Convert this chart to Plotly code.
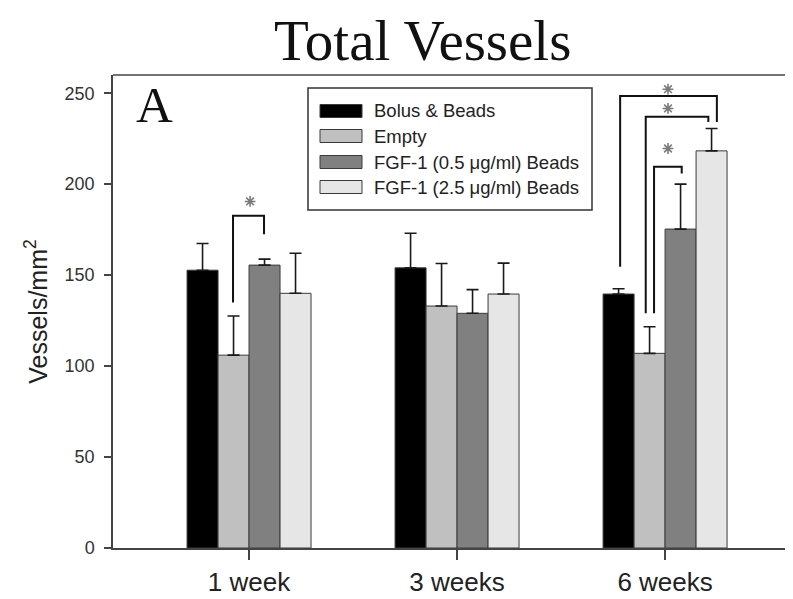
import plotly.graph_objects as go

# ---------------- data ----------------
categories = ["1 week", "3 weeks", "6 weeks"]
series_names = ["Bolus & Beads", "Empty", "FGF-1 (0.5 μg/ml) Beads", "FGF-1 (2.5 μg/ml) Beads"]
bolus_beads = [152.7, 154.0, 139.6]
empty = [106.0, 133.0, 107.0]
fgf_05 = [155.5, 129.0, 175.3]
fgf_25 = [140.0, 139.6, 218.3]
bolus_err = [14.7, 19.0, 2.9]
empty_err = [21.5, 23.4, 14.6]
fgf_05_err = [3.3, 13.0, 24.7]
fgf_25_err = [22.0, 17.0, 12.3]
y_ticks = [0, 50, 100, 150, 200, 250]

values = [bolus_beads, empty, fgf_05, fgf_25]
errors = [bolus_err, empty_err, fgf_05_err, fgf_25_err]
colors = ["#000000", "#c0c0c0", "#808080", "#e6e6e6"]

# significance brackets: (x_left, x_right, y_left_bottom, y_top, y_right_bottom, star_x, star_y)
brackets = [
    (-0.077, 0.072, 135.0, 182.6, 172.5, 0.005, 190.5),
    (1.784, 2.249, 154.6, 248.4, 234.2, 2.014, 252.2),
    (1.907, 2.208, 129.0, 237.0, 234.2, 2.014, 241.6),
    (1.947, 2.080, 129.0, 209.5, 205.9, 2.014, 219.6),
]

# page body has an 8px margin -> figure is drawn offset by (8, 8) in the window
OX, OY = 8, 8
W, H = 793 - OX, 599 - OY
L, R, T, B = 113 - OX, 0, 75 - OY, 51
BARGAP = 0.404

xpos = list(range(len(categories)))

fig = go.Figure()
for name, vals, errs, col in zip(series_names, values, errors, colors):
    fig.add_trace(go.Bar(
        x=xpos, y=vals, name=name,
        marker=dict(color=col, line=dict(color="#3a3a3a", width=1)),
        error_y=dict(type="data", array=errs, arrayminus=[0] * len(errs), symmetric=False,
                     color="#1a1a1a", thickness=1.6, width=6),
        showlegend=False,
    ))

def sx(px):
    """window pixel x -> paper x"""
    return (px - OX - L) / (W - L - R)

def sy(py):
    """window pixel y -> paper y"""
    return (H - B - (py - OY)) / (H - T - B)

shapes = []
annotations = []

# brackets
for xl, xr, yl, yt, yr, stx, sty in brackets:
    shapes.append(dict(type="path", xref="x", yref="y",
                       path=f"M {xl},{yl} L {xl},{yt} L {xr},{yt} L {xr},{yr}",
                       line=dict(color="#111111", width=2)))

# significance stars (asterisk markers)
fig.add_trace(go.Scatter(
    x=[b[5] for b in brackets], y=[b[6] for b in brackets],
    mode="markers", hoverinfo="skip", showlegend=False, cliponaxis=False,
    marker=dict(symbol="asterisk-open", size=9, color="#7a7a7a",
                line=dict(color="#7a7a7a", width=1.6)),
))

# top border and slightly extended baseline
shapes.append(dict(type="line", xref="paper", yref="paper", x0=0, x1=1, y0=1, y1=1,
                   line=dict(color="#444444", width=1.5)))
shapes.append(dict(type="line", xref="paper", yref="paper", x0=sx(106), x1=0, y0=0, y1=0,
                   line=dict(color="#444444", width=1.5)))

# custom legend
shapes.append(dict(type="rect", xref="paper", yref="paper",
                   x0=sx(308), x1=sx(592), y0=sy(210), y1=sy(88),
                   line=dict(color="#333333", width=1.5), fillcolor="white", layer="above"))
item_y = [111, 136, 162, 187]
for name, col, cy in zip(series_names, colors, item_y):
    shapes.append(dict(type="rect", xref="paper", yref="paper",
                       x0=sx(320), x1=sx(362), y0=sy(cy + 6.5), y1=sy(cy - 6.5),
                       line=dict(color="#3a3a3a", width=1), fillcolor=col, layer="above"))
    annotations.append(dict(x=sx(372), y=sy(cy), xref="paper", yref="paper",
                            text=name, showarrow=False, xanchor="left", yanchor="middle",
                            font=dict(family="Liberation Sans, Arial", size=18.5, color="#222222")))

# panel letter
annotations.append(dict(x=sx(154), y=sy(105), xref="paper", yref="paper",
                        text="A", showarrow=False, xanchor="center", yanchor="middle",
                        font=dict(family="Liberation Serif, Times New Roman", size=51, color="#111111")))

# title
annotations.append(dict(x=sx(422), y=sy(40), xref="paper", yref="paper",
                        text="Total Vessels", showarrow=False, xanchor="center", yanchor="middle",
                        font=dict(family="Liberation Serif, Times New Roman", size=57, color="#111111")))

fig.update_layout(
    width=W, height=H,
    margin=dict(l=L, r=R, t=T, b=B, pad=0),
    paper_bgcolor="white", plot_bgcolor="white",
    barmode="group", bargap=BARGAP, bargroupgap=0,
    shapes=shapes, annotations=annotations,
    font=dict(family="Liberation Sans, Arial", color="#222222"),
    xaxis=dict(type="linear", range=[-0.654, 2.615], tickvals=xpos, ticktext=categories,
               showgrid=False, zeroline=False,
               showline=True, linecolor="#444444", linewidth=1.5,
               ticks="outside", ticklen=10, tickwidth=1.5, tickcolor="#444444",
               tickfont=dict(size=26, color="#222222")),
    yaxis=dict(range=[0, 260], tickvals=y_ticks, showgrid=False, zeroline=False,
               showline=True, linecolor="#444444", linewidth=1.5,
               ticks="outside", ticklen=7, tickwidth=1.5, tickcolor="#444444",
               ticklabelstandoff=6,
               tickfont=dict(size=18, color="#333333"),
               title=dict(text="Vessels/mm<sup>2</sup>", font=dict(size=25, color="#222222"), standoff=10)),
)

fig.write_html("out.html")
